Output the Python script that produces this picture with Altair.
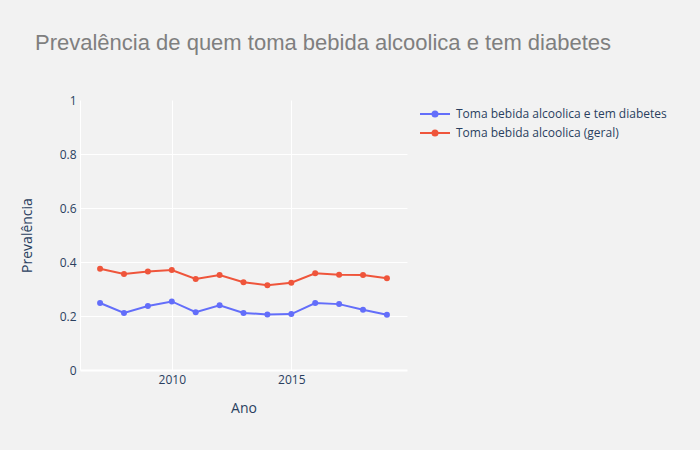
import altair as alt
import pandas as pd

years = list(range(2007, 2020))
diabetes = [0.248, 0.211, 0.237, 0.254, 0.214, 0.240, 0.211, 0.206, 0.207, 0.248, 0.244, 0.223, 0.205]
geral = [0.375, 0.356, 0.365, 0.370, 0.337, 0.352, 0.325, 0.314, 0.323, 0.358, 0.353, 0.352, 0.340]
series_names = ["Toma bebida alcoolica e tem diabetes", "Toma bebida alcoolica (geral)"]
colors = ["#636efa", "#EF553B"]

df = pd.DataFrame({
    "Ano": years * 2,
    "Prevalência": diabetes + geral,
    "Série": [series_names[0]] * len(years) + [series_names[1]] * len(years),
})

sym = "M-3,0L3,0M-0.5,0A0.5,0.5,0,1,1,0.5,0A0.5,0.5,0,1,1,-0.5,0Z"

color = alt.Color(
    "Série:N",
    scale=alt.Scale(domain=series_names, range=colors),
    sort=series_names,
    legend=alt.Legend(
        title=None, orient="none", legendX=349, legendY=8,
        symbolType=sym, symbolSize=100, symbolStrokeWidth=2,
        labelFont="Open Sans", labelFontSize=12, labelColor="#2a3f5f",
        labelOffset=15, rowPadding=5, padding=0, labelLimit=400,
    ),
)

x = alt.X(
    "Ano:Q",
    scale=alt.Scale(domain=[2006.16, 2019.84], nice=False, zero=False),
    axis=alt.Axis(
        values=[2010, 2015], format="d", title="Ano",
        labelFont="Open Sans", labelFontSize=12, labelColor="#2a3f5f",
        titleFont="Open Sans", titleFontSize=14, titleColor="#2a3f5f", titleFontWeight="normal",
        ticks=False, labelPadding=4, titlePadding=16,
        grid=True, gridColor="white", gridWidth=1,
        domain=False,
    ),
)
y = alt.Y(
    "Prevalência:Q",
    scale=alt.Scale(domain=[0, 1], nice=False),
    axis=alt.Axis(
        values=[0, 0.2, 0.4, 0.6, 0.8, 1], format=".1~f", title="Prevalência",
        labelFont="Open Sans", labelFontSize=12, labelColor="#2a3f5f",
        titleFont="Open Sans", titleFontSize=14, titleColor="#2a3f5f", titleFontWeight="normal",
        ticks=False, labelPadding=4, titlePadding=25,
        grid=True, gridColor="white",
        gridWidth=alt.condition(alt.datum.value == 0, alt.value(2), alt.value(1)),
        gridOpacity=alt.condition(alt.datum.value == 1, alt.value(0), alt.value(1)),
        domain=True, domainColor="white", domainWidth=1,
    ),
)

base = alt.Chart(df)
lines = base.mark_line(strokeWidth=2).encode(x=x, y=y, color=color)
points = base.mark_circle(size=36, opacity=1).encode(x=x, y=y, color=color)

chart = (
    alt.layer(lines, points)
    .properties(
        width=327,
        height=270,
        title=alt.TitleParams(
            "Prevalência de quem toma bebida alcoolica e tem diabetes",
            anchor="start", frame="group", dx=-45, offset=22, baseline="alphabetic",
            font="Liberation Sans", fontSize=22, fontWeight="normal", color="#7f7f7f",
        ),
        autosize=alt.AutoSizeParams(type="none"),
        padding={"left": 80, "top": 100, "right": 293, "bottom": 80},
        background="#f2f2f2",
    )
    .configure_view(fill="#f2f2f2", stroke=None)
)

chart.save("out.html", embed_options={"renderer": "svg", "actions": False})
